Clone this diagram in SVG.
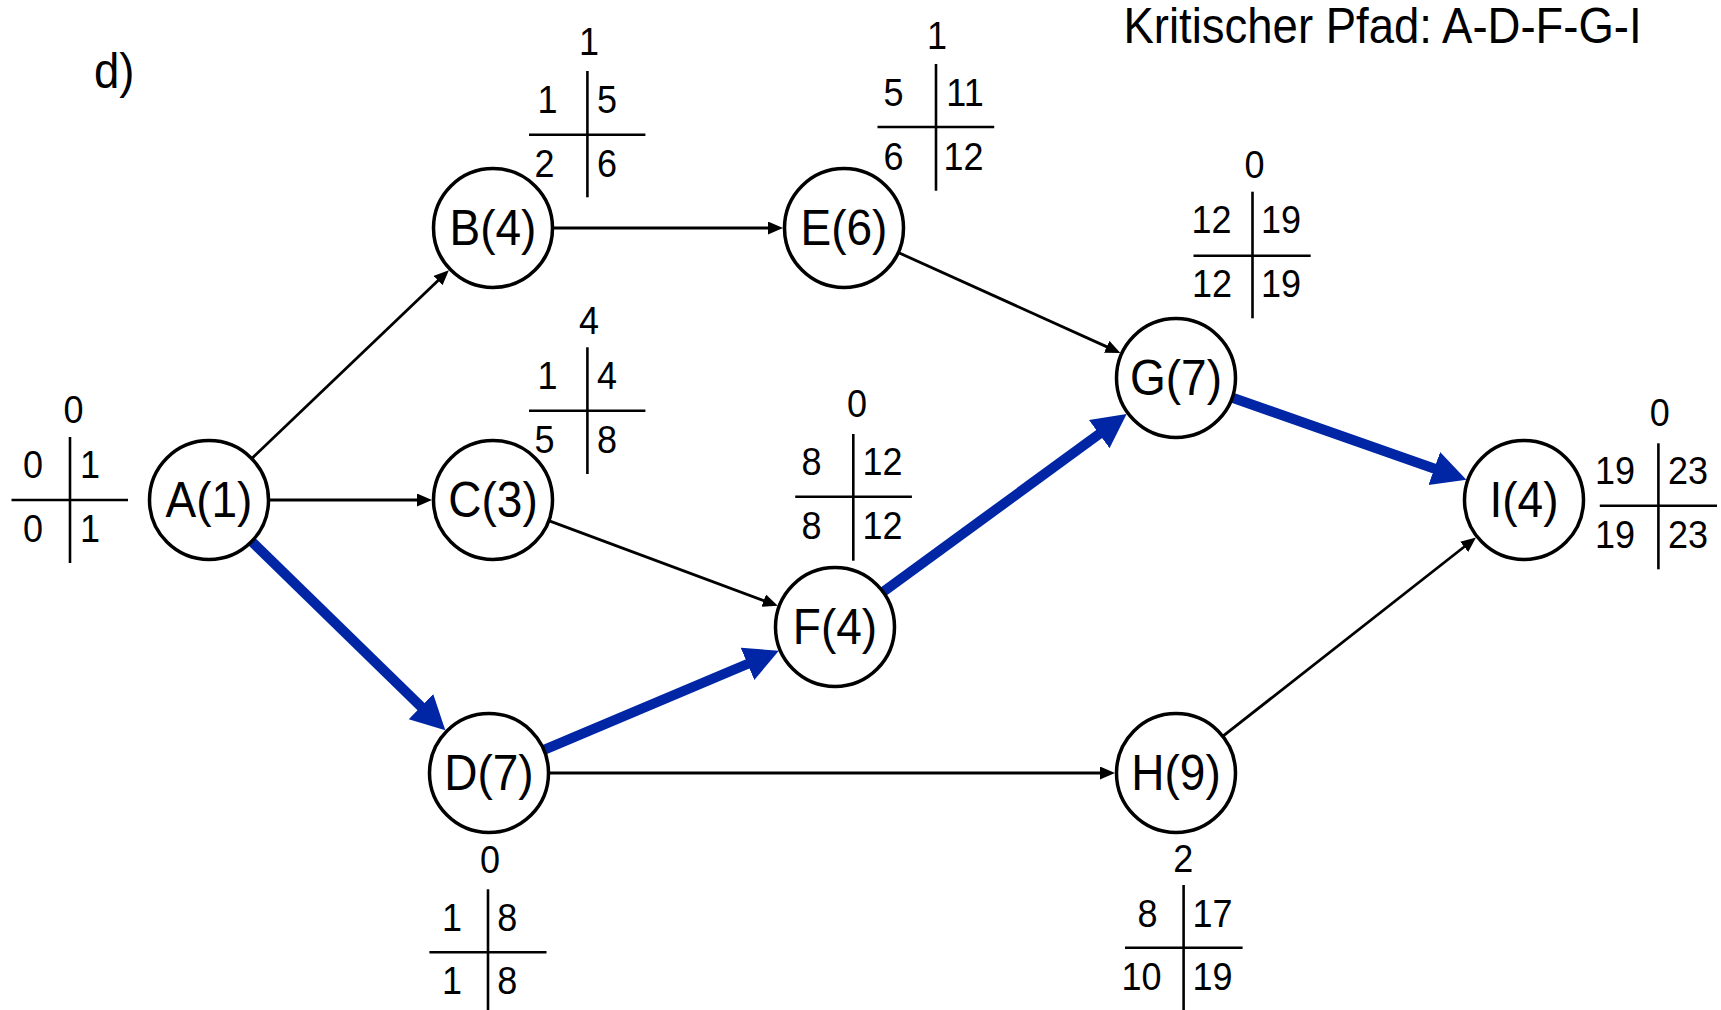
<svg xmlns="http://www.w3.org/2000/svg" width="1721" height="1010" viewBox="0 0 1721 1010">
<style>
text{font-family:"Liberation Sans",Arial,sans-serif;fill:#000;transform-box:fill-box;transform-origin:50% 81%;transform:scaleY(1.08)}
.lbl{font-size:46px;text-anchor:middle}
.num{font-size:36px;text-anchor:middle}
.title{font-size:45.5px}
.node circle{fill:#fff;stroke:#000;stroke-width:3.5}
.tbl line{stroke:#000;stroke-width:2.6}
.c{stroke:#000;stroke-width:2.8;fill:none;marker-end:url(#ah)}
.k{stroke:#0026a6;stroke-width:10;fill:none;marker-end:url(#ahb)}
</style>
<defs>
<marker id="ah" markerUnits="userSpaceOnUse" markerWidth="16" markerHeight="14" refX="7" refY="6.5" orient="auto"><path d="M0,0 L15,6.5 L0,13 z" fill="#000"/></marker>
<marker id="ahb" markerUnits="userSpaceOnUse" markerWidth="36" markerHeight="36" refX="14" refY="17.5" orient="auto"><path d="M0,0 L34,17.5 L0,35 z" fill="#0026a6"/></marker>
</defs>
<rect width="1721" height="1010" fill="#fff"/>
<text class="title" x="94" y="88">d)</text>
<text class="title" x="1123.5" y="43">Kritischer Pfad: A-D-F-G-I</text>

<g id="connectors">
<line class="c" x1="245" y1="465" x2="443.1" y2="275.7"/>
<line class="c" x1="259" y1="500" x2="424" y2="500"/>
<line class="k" x1="245" y1="535" x2="431" y2="716.4"/>
<line class="c" x1="543" y1="228" x2="775" y2="228"/>
<line class="c" x1="539.9" y1="517.4" x2="770.3" y2="603"/>
<line class="k" x1="535.1" y1="753.6" x2="760.4" y2="658.5"/>
<line class="c" x1="539" y1="773" x2="1107" y2="773"/>
<line class="c" x1="889.6" y1="248.6" x2="1113.1" y2="349.6"/>
<line class="k" x1="875.4" y1="597.5" x2="1110.5" y2="425.8"/>
<line class="k" x1="1223.2" y1="394.5" x2="1447.5" y2="473.2"/>
<line class="c" x1="1215.3" y1="742.1" x2="1469.7" y2="542.5"/>
</g>

<g id="node-A" class="node"><circle cx="209" cy="500" r="59.5"/><text class="lbl" x="209" y="517">A(1)</text></g>
<g id="node-B" class="node"><circle cx="493" cy="228" r="59.5"/><text class="lbl" x="493" y="245">B(4)</text></g>
<g id="node-C" class="node"><circle cx="493" cy="500" r="59.5"/><text class="lbl" x="493" y="517">C(3)</text></g>
<g id="node-D" class="node"><circle cx="489" cy="773" r="59.5"/><text class="lbl" x="489" y="790">D(7)</text></g>
<g id="node-E" class="node"><circle cx="844" cy="228" r="59.5"/><text class="lbl" x="844" y="245">E(6)</text></g>
<g id="node-F" class="node"><circle cx="835" cy="627" r="59.5"/><text class="lbl" x="835" y="644">F(4)</text></g>
<g id="node-G" class="node"><circle cx="1176" cy="378" r="59.5"/><text class="lbl" x="1176" y="395">G(7)</text></g>
<g id="node-H" class="node"><circle cx="1176" cy="773" r="59.5"/><text class="lbl" x="1176" y="790">H(9)</text></g>
<g id="node-I" class="node"><circle cx="1524" cy="500" r="59.5"/><text class="lbl" x="1524" y="517">I(4)</text></g>

<g id="table-A" class="tbl">
<line x1="11.5" y1="500" x2="128" y2="500"/><line x1="70" y1="437" x2="70" y2="563"/>
<text class="num" x="73.5" y="423">0</text>
<text class="num" x="33" y="478">0</text><text class="num" x="90" y="478">1</text>
<text class="num" x="33" y="542">0</text><text class="num" x="90" y="542">1</text>
</g>
<g id="table-B" class="tbl">
<line x1="529" y1="134.7" x2="645.4" y2="134.7"/><line x1="587.4" y1="71" x2="587.4" y2="197.3"/>
<text class="num" x="589" y="55">1</text>
<text class="num" x="547.6" y="113.3">1</text><text class="num" x="607" y="113.3">5</text>
<text class="num" x="544.4" y="176.7">2</text><text class="num" x="607" y="176.7">6</text>
</g>
<g id="table-C" class="tbl">
<line x1="529" y1="410.7" x2="645.4" y2="410.7"/><line x1="587.4" y1="347.3" x2="587.4" y2="474"/>
<text class="num" x="589" y="334">4</text>
<text class="num" x="547.6" y="389.3">1</text><text class="num" x="607" y="389.3">4</text>
<text class="num" x="544.4" y="452.7">5</text><text class="num" x="607" y="452.7">8</text>
</g>
<g id="table-D" class="tbl">
<line x1="429.4" y1="952.3" x2="546.5" y2="952.3"/><line x1="488" y1="889.3" x2="488" y2="1012"/>
<text class="num" x="490" y="873.3">0</text>
<text class="num" x="452" y="930.7">1</text><text class="num" x="507.2" y="930.7">8</text>
<text class="num" x="452" y="994.3">1</text><text class="num" x="507.2" y="994.3">8</text>
</g>
<g id="table-E" class="tbl">
<line x1="877.5" y1="127" x2="994.2" y2="127"/><line x1="936" y1="64" x2="936" y2="190.7"/>
<text class="num" x="937" y="49.3">1</text>
<text class="num" x="893.5" y="106">5</text><text class="num" x="965" y="106">11</text>
<text class="num" x="893.5" y="170">6</text><text class="num" x="963.5" y="170">12</text>
</g>
<g id="table-F" class="tbl">
<line x1="795.2" y1="496.7" x2="911.9" y2="496.7"/><line x1="853.3" y1="434" x2="853.3" y2="560.7"/>
<text class="num" x="857" y="417.3">0</text>
<text class="num" x="811.4" y="475">8</text><text class="num" x="882.6" y="475">12</text>
<text class="num" x="811.4" y="539.3">8</text><text class="num" x="882.6" y="539.3">12</text>
</g>
<g id="table-G" class="tbl">
<line x1="1193.5" y1="255.7" x2="1310.7" y2="255.7"/><line x1="1252.5" y1="191.7" x2="1252.5" y2="318.3"/>
<text class="num" x="1254.5" y="178.3">0</text>
<text class="num" x="1211.5" y="233.3">12</text><text class="num" x="1281" y="233.3">19</text>
<text class="num" x="1212" y="296.7">12</text><text class="num" x="1281" y="296.7">19</text>
</g>
<g id="table-H" class="tbl">
<line x1="1125" y1="947.7" x2="1242.6" y2="947.7"/><line x1="1183.6" y1="885" x2="1183.6" y2="1012"/>
<text class="num" x="1183.2" y="871.7">2</text>
<text class="num" x="1147.5" y="926.7">8</text><text class="num" x="1212.5" y="926.7">17</text>
<text class="num" x="1141.4" y="990">10</text><text class="num" x="1212.5" y="990">19</text>
</g>
<g id="table-I" class="tbl">
<line x1="1599.8" y1="505.7" x2="1717" y2="505.7"/><line x1="1658.4" y1="443.3" x2="1658.4" y2="569.3"/>
<text class="num" x="1659.8" y="426">0</text>
<text class="num" x="1615" y="484">19</text><text class="num" x="1688" y="484">23</text>
<text class="num" x="1615" y="548.3">19</text><text class="num" x="1688" y="548.3">23</text>
</g>
</svg>
